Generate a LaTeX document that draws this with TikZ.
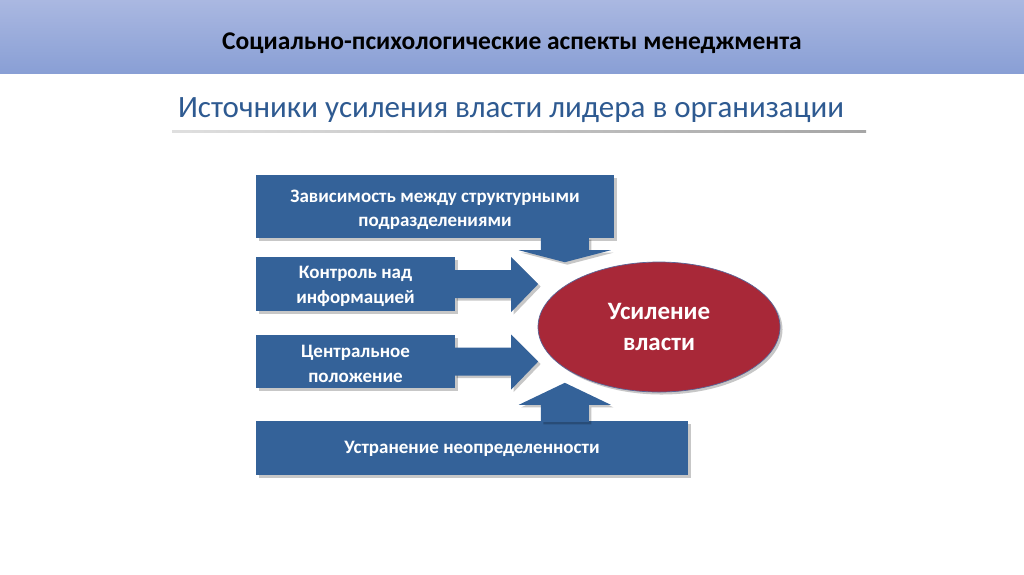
\documentclass[tikz,border=0pt]{standalone}
\usepackage{fontspec}
\setmainfont{Carlito}
\usetikzlibrary{calc,shadows,shapes.geometric}
\definecolor{boxblue}{RGB}{52,98,153}
\definecolor{ellred}{RGB}{168,40,56}
\definecolor{ellline}{RGB}{90,100,150}
\definecolor{titleblue}{RGB}{46,90,145}
\definecolor{hdtop}{RGB}{170,184,225}
\definecolor{hdbot}{RGB}{137,159,213}
\tikzset{
  softshadow/.style={drop shadow={opacity=0.22, shadow xshift=2.5pt, shadow yshift=-2.5pt, fill=black}},
  srcbox/.style={draw=none, fill=boxblue, text=white, font=\bfseries\fontsize{19}{24}\selectfont,
    align=center, inner sep=0pt, softshadow},
  blockarrow/.style={fill=boxblue, draw=none, softshadow},
}
\begin{document}
\begin{tikzpicture}[x=1pt,y=-1pt]
\useasboundingbox (0,0) rectangle (1024,574);
\fill[white] (0,0) rectangle (1024,574);
% header
\shade[top color=hdtop, bottom color=hdbot] (0,0) rectangle (1024,73);
\node (hdr) at (512,43.5) {\bfseries\fontsize{25.5}{30}\selectfont Социально-психологические аспекты менеджмента};
% title
\node[text=titleblue] (ttl) at (511,110) {\fontsize{31}{36}\selectfont Источники усиления власти лидера в организации};
\shade[left color=gray!25, right color=gray!70] (172,130) rectangle (866,132.5);

% boxes
\node[srcbox, minimum width=358pt, minimum height=63pt] (b1) at (435,206.5) {};
\node[srcbox, minimum width=199pt, minimum height=54pt] (b2) at (355.5,284) {};
\node[srcbox, minimum width=199pt, minimum height=53pt] (b3) at (355.5,361.5) {};
\node[srcbox, minimum width=432pt, minimum height=54pt] (b4) at (472,448) {};
\node[text=white, font=\bfseries\fontsize{19}{24}\selectfont, align=center] (t1) at ($(b1)+(0,3)$)
  {Зависимость между структурными\\подразделениями};
\node[text=white, font=\bfseries\fontsize{19}{25}\selectfont, align=center] (t2) at ($(b2)+(0,2)$)
  {Контроль над\\информацией};
\node[text=white, font=\bfseries\fontsize{19}{25}\selectfont, align=center] (t3) at ($(b3)+(0,2)$)
  {Центральное\\положение};
\node[text=white, font=\bfseries\fontsize{19}{24}\selectfont] (t4) at ($(b4)+(0,1)$)
  {Устранение неопределенности};

% target ellipse
\node[ellipse, fill=ellred, draw=ellline, line width=0.7pt, minimum width=242pt, minimum height=130pt,
  text=white, font=\bfseries\fontsize{25}{31}\selectfont, align=center, softshadow] (ell) at (659,327)
  {Усиление\\власти};

% block arrows
\path[blockarrow] ($(b2.east)+(-1,-14)$) -- ++(57,0) -- ++(0,-13) -- ($(b2.east)+(83,0)$)
  -- ($(b2.east)+(56,28)$) -- ++(0,-14) -- ($(b2.east)+(-1,14)$) -- cycle;
\path[blockarrow] ($(b3.east)+(-1,-14)$) -- ++(57,0) -- ++(0,-13) -- ($(b3.east)+(83,0)$)
  -- ($(b3.east)+(56,28)$) -- ++(0,-14) -- ($(b3.east)+(-1,14)$) -- cycle;
\coordinate (d1) at ($(b1.south west)+(285,-1)$);
\path[blockarrow] (d1) -- ++(48,0) -- ++(0,13) -- ++(22,0) -- ($(d1)+(24,25)$)
  -- ($(d1)+(-22,13)$) -- ++(22,0) -- cycle;
\coordinate (u1) at ($(b4.north west)+(285,1)$);
\path[blockarrow] (u1) -- ++(48,0) -- ++(0,-17) -- ++(22,0) -- ($(u1)+(24,-39)$)
  -- ($(u1)+(-22,-17)$) -- ++(22,0) -- cycle;
\end{tikzpicture}
\end{document}
